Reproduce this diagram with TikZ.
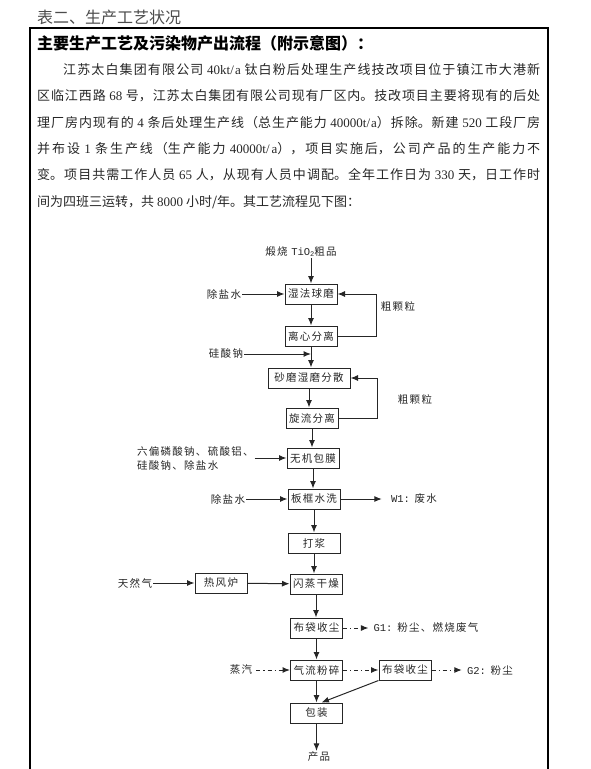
\documentclass[tikz,border=0pt]{standalone}
\usepackage{fontspec}
\setmainfont{Liberation Serif}
\newfontfamily\cjk{Noto Sans CJK SC}
\newfontfamily\dgmfont[LetterSpace=12]{Noto Sans CJK SC}
\newfontfamily\latf{Liberation Serif}
\newfontfamily\monof{Liberation Mono}
\newcommand\lat[1]{{\latf #1}}
\newcommand\mono[1]{{\monof #1}}
\XeTeXlinebreaklocale "zh"
\XeTeXlinebreakskip=0pt plus 2pt
\usetikzlibrary{arrows.meta}
\usetikzlibrary{calc}
\tikzset{>=latex}
\tikzset{box/.style={draw, line width=1pt, minimum width=52pt, minimum height=20pt, inner sep=1pt, font=\dgmfont\fontsize{10.5}{12}\selectfont}}
\tikzset{lbl/.style={inner sep=1pt, font=\dgmfont\fontsize{10.5}{12}\selectfont}}
\tikzset{arr/.style={-{Latex[length=7.5pt,width=6pt]}, line width=1pt}}
\tikzset{darr/.style={arr, dash pattern=on 4pt off 3pt on 1.2pt off 3pt}}

\begin{document}
\begin{tikzpicture}[x=1pt, y=-1pt, black!85]
        \useasboundingbox (0,0) rectangle (591,769);

        % Frame and text
        \node[anchor=west, inner sep=0, text=black!70, font=\cjk\fontsize{16}{18}\selectfont] (title) at (37,17) {表二、生产工艺状况};
        \draw[black, line width=1.1pt] (30,769) -- (30,28) -- (548,28) -- (548,769);
        \node[anchor=west, inner sep=0, text=black, font=\cjk\bfseries\fontsize{16}{18}\selectfont] (head) at (37,43) {主要生产工艺及污染物产出流程（附示意图）：};
        \node[anchor=north west, inner sep=0, text width=503pt, align=justify, text=black!85, font=\cjk\fontsize{13}{26.4}\selectfont] (para) at (37,63) {%
\hspace*{2em}江苏太白集团有限公司 \lat{40kt/a} 钛白粉后处理生产线技改项目位于镇江市大港新\linebreak
区临江西路 \lat{68} 号，江苏太白集团有限公司现有厂区内。技改项目主要将现有的后处\linebreak
理厂房内现有的 \lat{4} 条后处理生产线（总生产能力 \lat{40000t/a}）拆除。新建 \lat{520} 工段厂房\linebreak
并布设 \lat{1} 条生产线（生产能力 \lat{40000t/a}），项目实施后，公司产品的生产能力不\linebreak
变。项目共需工作人员 \lat{65} 人，从现有人员中调配。全年工作日为 \lat{330} 天，日工作时\linebreak
间为四班三运转，共 \lat{8000} 小时/年。其工艺流程见下图：};

        % Process boxes
        \node[box] (wet) at (311,294) {湿法球磨};
        \node[box] (cent) at (311,336) {离心分离};
        \node[box, minimum width=82pt] (sand) at (309,378) {砂磨湿磨分散};
        \node[box] (cyc) at (312,418) {旋流分离};
        \node[box] (coat) at (313,458) {无机包膜};
        \node[box] (wash) at (314,499) {板框水洗};
        \node[box] (pulp) at (314,543) {打浆};
        \node[box] (furn) at (221,583) {热风炉};
        \node[box] (flash) at (316,584) {闪蒸干燥};
        \node[box] (bag1) at (316.5,628) {布袋收尘};
        \node[box] (mill) at (316.5,670) {气流粉碎};
        \node[box] (bag2) at (405,670) {布袋收尘};
        \node[box] (pack) at (316.5,713) {包装};

        % Inputs and outputs
        \node[lbl] (raw) at (301,252) {煅烧 \mono{TiO}\raisebox{-1pt}{\mono{\scriptsize 2}}粗品};
        \node[lbl] (water1) at (224,294) {除盐水};
        \node[lbl] (coarse1) at (398,306) {粗颗粒};
        \node[lbl] (silicate) at (226,354) {硅酸钠};
        \node[lbl] (coarse2) at (415,399) {粗颗粒};
        \node[lbl, align=left, anchor=west] (chem) at (136,458) {六偏磷酸钠、硫酸铝、\\[2pt]硅酸钠、除盐水};
        \node[lbl] (water2) at (228,499) {除盐水};
        \node[lbl] (w1) at (414,499) {\mono{W1:} 废水};
        \node[lbl] (gas) at (135,583) {天然气};
        \node[lbl] (g1) at (426,628) {\mono{G1:} 粉尘、燃烧废气};
        \node[lbl] (steam) at (241,670) {蒸汽};
        \node[lbl] (g2) at (490,670) {\mono{G2:} 粉尘};
        \node[lbl] (prod) at (319,757) {产品};

        % Main flow
        \draw[arr] (wet |- raw.south) -- (wet.north);
        \draw[arr] (wet) -- (cent);
        \draw[arr] (cent) -- (cent |- sand.north);
        \draw[arr] (sand) -- (sand |- cyc.north);
        \draw[arr] (cyc) -- (cyc |- coat.north);
        \draw[arr] (coat) -- (coat |- wash.north);
        \draw[arr] (wash) -- (pulp);
        \draw[arr] (pulp) -- (pulp |- flash.north);
        \draw[arr] (flash) -- (flash |- bag1.north);
        \draw[arr] (bag1) -- (mill);
        \draw[arr] (mill) -- (pack);
        \draw[arr] (pack) -- (pack |- prod.north);

        % Feeds and recycles
        \draw[arr] (water1) -- (wet);
        \draw[arr] (cent.east) -- ++(39,0) |- (wet.east);
        \draw[arr] (silicate) -- (silicate -| cent);
        \draw[arr] (cyc.east) -- ++(39,0) |- (sand.east);
        \draw[arr] (chem.east) -- (coat);
        \draw[arr] (water2) -- (wash);
        \draw[arr, shorten >=8pt] (wash) -- (w1);
        \draw[arr] (gas) -- (furn);
        \draw[arr] (furn) -- (flash);
        \draw[arr] (bag2.south west) -- ([xshift=5pt]pack.north);

        % Emissions
        \draw[darr, shorten >=4pt] (bag1) -- (g1);
        \draw[darr, shorten <=3pt] (steam) -- (mill);
        \draw[darr] (mill) -- (bag2);
        \draw[darr, shorten >=4pt] (bag2) -- (g2);
    \end{tikzpicture}
\end{document}
